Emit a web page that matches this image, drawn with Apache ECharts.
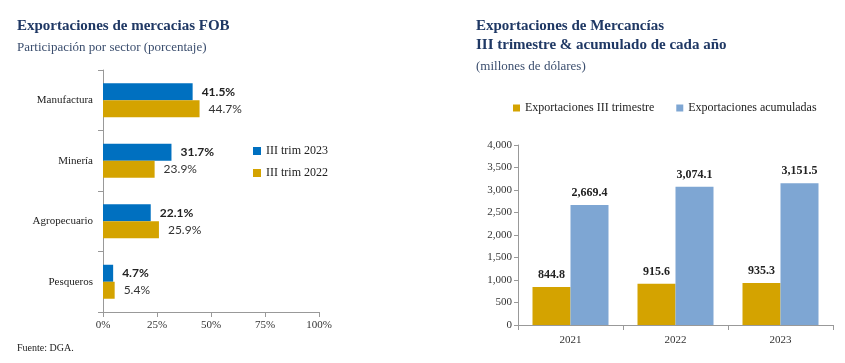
<!DOCTYPE html>
<html>
<head>
<meta charset="utf-8">
<script src="https://cdn.jsdelivr.net/npm/echarts@6/dist/echarts.min.js"></script>
<style>html,body{margin:0;padding:0;background:#fff}#c{width:845px;height:363px}</style>
</head>
<body>
<div id="c"></div>
<script>
// Left chart data
const sectors = ['Manufactura', 'Minería', 'Agropecuario', 'Pesqueros'];
const trim2023 = [41.5, 31.7, 22.1, 4.7];
const trim2022 = [44.7, 23.9, 25.9, 5.4];
const pctTicks = [0, 25, 50, 75, 100];
// Right chart data
const years = ['2021', '2022', '2023'];
const expTrimestre = [844.8, 915.6, 935.3];
const expAcumuladas = [2669.4, 3074.1, 3151.5];

const SERIF = '"Liberation Serif", "DejaVu Serif", serif';
const SANS = 'Lato, "Liberation Sans", sans-serif';
const NAVY = '#1F3864';
const SUB = '#3B4E6E';
const BLUE = '#0070C0';
const GOLD = '#D4A300';
const LBLUE = '#7EA6D3';

const fmt = v => v.toLocaleString('en-US', {minimumFractionDigits: 1, maximumFractionDigits: 1});

const chart = echarts.init(document.getElementById('c'), null, {renderer: 'canvas'});
chart.setOption({
  animation: false,
  backgroundColor: '#fff',
  title: [
    {text: 'Exportaciones de mercacias FOB', left: 12, top: 14,
     textStyle: {fontFamily: SERIF, fontSize: 15, fontWeight: 'bold', color: NAVY}},
    {text: 'Participación por sector (porcentaje)', left: 12, top: 36,
     textStyle: {fontFamily: SERIF, fontSize: 13, fontWeight: 'normal', color: SUB}},
    {text: 'Fuente: DGA.', left: 12, top: 338,
     textStyle: {fontFamily: SERIF, fontSize: 10, fontWeight: 'normal', color: '#222'}},
    {text: 'Exportaciones de Mercancías', left: 471, top: 14,
     textStyle: {fontFamily: SERIF, fontSize: 15, fontWeight: 'bold', color: NAVY}},
    {text: 'III trimestre & acumulado de cada año', left: 471, top: 33,
     textStyle: {fontFamily: SERIF, fontSize: 15, fontWeight: 'bold', color: NAVY}},
    {text: '(millones de dólares)', left: 471, top: 55,
     textStyle: {fontFamily: SERIF, fontSize: 13, fontWeight: 'normal', color: SUB}}
  ],
  legend: [
    {orient: 'vertical', left: 248, top: 140, itemWidth: 8, itemHeight: 8, itemGap: 10, icon: 'rect',
     data: ['III trim 2023', 'III trim 2022'],
     textStyle: {fontFamily: SERIF, fontSize: 12, color: '#222'}},
    {orient: 'horizontal', left: 508, top: 97, itemWidth: 7, itemHeight: 7, itemGap: 22, icon: 'rect',
     data: ['Exportaciones III trimestre', 'Exportaciones acumuladas'],
     textStyle: {fontFamily: SERIF, fontSize: 12, color: '#222'}}
  ],
  grid: [
    {left: 103, right: 526, top: 70, bottom: 51},
    {left: 518, right: 12, top: 145, bottom: 38}
  ],
  xAxis: [
    {gridIndex: 0, type: 'value', min: 0, max: 100, interval: 25,
     axisLine: {show: true, lineStyle: {color: '#999'}},
     axisTick: {show: true, length: 5, lineStyle: {color: '#999'}},
     splitLine: {show: false},
     axisLabel: {formatter: v => v + '%', fontFamily: SERIF, fontSize: 11, color: '#333', margin: 8}},
    {gridIndex: 1, type: 'category', data: years,
     axisLine: {lineStyle: {color: '#999'}},
     axisTick: {show: true, length: 5, lineStyle: {color: '#999'}},
     axisLabel: {fontFamily: SERIF, fontSize: 11, color: '#333', margin: 10}}
  ],
  yAxis: [
    {gridIndex: 0, type: 'category', data: sectors, inverse: true,
     axisLine: {lineStyle: {color: '#999'}},
     axisTick: {show: true, length: 5, lineStyle: {color: '#999'}},
     axisLabel: {fontFamily: SERIF, fontSize: 11, color: '#222', margin: 10}},
    {gridIndex: 1, type: 'value', min: 0, max: 4000, interval: 500,
     axisLine: {show: true, lineStyle: {color: '#999'}},
     axisTick: {show: true, length: 4, lineStyle: {color: '#999'}},
     splitLine: {show: false},
     axisLabel: {formatter: v => v.toLocaleString('en-US'), fontFamily: SERIF, fontSize: 11, color: '#333', margin: 6}}
  ],
  series: [
    {name: 'III trim 2023', type: 'bar', xAxisIndex: 0, yAxisIndex: 0, data: trim2023,
     barWidth: 17, barGap: '0%',
     itemStyle: {color: BLUE},
     label: {show: true, position: 'right', distance: 9, formatter: p => fmt(p.value) + '%',
             fontFamily: SANS, fontSize: 12, fontWeight: 'bold', color: '#222'}},
    {name: 'III trim 2022', type: 'bar', xAxisIndex: 0, yAxisIndex: 0, data: trim2022,
     barWidth: 17, barGap: '0%',
     itemStyle: {color: GOLD},
     label: {show: true, position: 'right', distance: 9, formatter: p => fmt(p.value) + '%',
             fontFamily: SANS, fontSize: 12, color: '#333'}},
    {name: 'Exportaciones III trimestre', type: 'bar', xAxisIndex: 1, yAxisIndex: 1, data: expTrimestre,
     barWidth: 38, barGap: '0%',
     itemStyle: {color: GOLD},
     label: {show: true, position: 'top', distance: 6, formatter: p => fmt(p.value),
             fontFamily: SERIF, fontSize: 12, fontWeight: 'bold', color: '#222'}},
    {name: 'Exportaciones acumuladas', type: 'bar', xAxisIndex: 1, yAxisIndex: 1, data: expAcumuladas,
     barWidth: 38, barGap: '0%',
     itemStyle: {color: LBLUE},
     label: {show: true, position: 'top', distance: 6, formatter: p => fmt(p.value),
             fontFamily: SERIF, fontSize: 12, fontWeight: 'bold', color: '#222'}}
  ]
});
</script>
</body>
</html>
